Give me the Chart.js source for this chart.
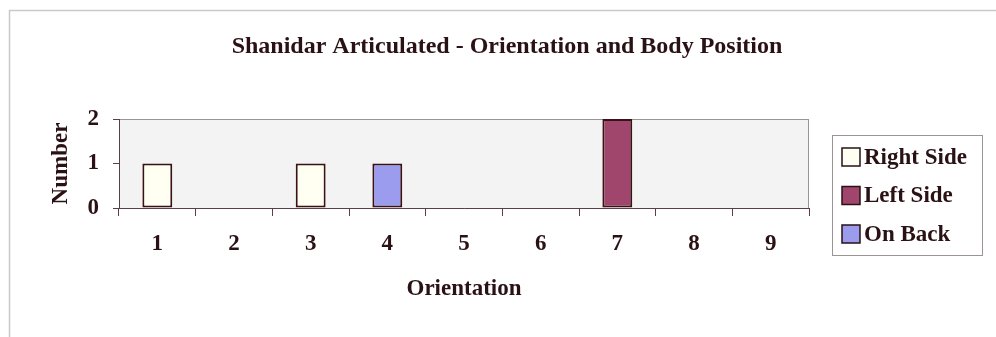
<!DOCTYPE html>
<html>
<head>
<meta charset="utf-8">
<title>Shanidar Articulated</title>
<script src="https://cdn.jsdelivr.net/npm/chart.js@4"></script>
<style>
  html, body { margin: 0; padding: 0; background: #fff; }
  canvas { display: block; }
</style>
</head>
<body>
<canvas id="orientChart" width="996" height="337"></canvas>
<script>
const orientations = ['1', '2', '3', '4', '5', '6', '7', '8', '9'];
const rightSide = [1, null, 1, null, null, null, null, null, null];
const leftSide = [null, null, null, null, null, null, 2, null, null];
const onBack = [null, null, null, 1, null, null, null, null, null];
const numberTicks = [0, 1, 2];

const chartTitle = 'Shanidar Articulated - Orientation and Body Position';
const ink = '#2a1114';
const serif = "'Liberation Serif', 'Times New Roman', serif";

// outer frame, plot background/border, title and the boxed legend
const decorations = {
    id: 'decorations',
    beforeDraw(chart) {
        const c = chart.ctx;
        const a = chart.chartArea;
        c.save();
        c.fillStyle = '#fff';
        c.fillRect(0, 0, chart.width, chart.height);
        c.strokeStyle = '#c9c9c9';
        c.lineWidth = 1.5;
        c.beginPath();
        c.moveTo(9.5, chart.height);
        c.lineTo(9.5, 10.5);
        c.lineTo(chart.width, 10.5);
        c.stroke();
        c.fillStyle = '#f3f3f3';
        c.fillRect(a.left, a.top, a.right - a.left, a.bottom - a.top);
        c.strokeStyle = '#9c9494';
        c.lineWidth = 1;
        c.strokeRect(a.left + 0.5, a.top + 0.5, a.right - a.left - 1, a.bottom - a.top);
        c.restore();
    },
    afterDraw(chart) {
        const c = chart.ctx;
        c.save();
        c.fillStyle = ink;
        c.font = 'bold 24px ' + serif;
        c.textAlign = 'center';
        c.textBaseline = 'middle';
        c.fillText(chartTitle, 507, 47);

        // legend box
        c.strokeStyle = '#9c9494';
        c.lineWidth = 1;
        c.strokeRect(832.5, 135.5, 150, 120);
        c.font = 'bold 23px ' + serif;
        c.textAlign = 'left';
        chart.data.datasets.forEach((ds, i) => {
            const y = 157 + i * 38.5;
            c.fillStyle = ds.backgroundColor;
            c.fillRect(842, y - 9, 18, 18);
            c.strokeStyle = ink;
            c.lineWidth = 1.5;
            c.strokeRect(842, y - 9, 18, 18);
            c.fillStyle = ink;
            c.fillText(ds.label, 864, y + 1);
        });
        c.restore();
    }
};

const barStyle = { borderColor: '#3a1216', borderWidth: 2, borderSkipped: false };
const labelFont = { family: serif, size: 23, weight: 'bold' };

new Chart(document.getElementById('orientChart'), {
    type: 'bar',
    data: {
        labels: orientations,
        datasets: [
            { label: 'Right Side', data: rightSide, backgroundColor: '#fffff2', ...barStyle },
            { label: 'Left Side', data: leftSide, backgroundColor: '#a0466c', ...barStyle },
            { label: 'On Back', data: onBack, backgroundColor: '#9c9cee', ...barStyle }
        ]
    },
    options: {
        responsive: false,
        animation: false,
        grouped: false,
        barPercentage: 0.39,
        categoryPercentage: 1,
        layout: { padding: { top: 119, right: 187, left: 0, bottom: 0 } },
        scales: {
            x: {
                afterFit(scale) { scale.height = 129; },
                grid: { offset: true, drawOnChartArea: false, tickLength: 8, color: '#5a4044' },
                border: { color: '#5a4044' },
                ticks: { color: ink, padding: 14, font: labelFont },
                title: {
                    display: true,
                    text: 'Orientation',
                    color: ink,
                    padding: { top: 0, bottom: 34 },
                    font: labelFont
                }
            },
            y: {
                min: 0,
                max: 2,
                afterFit(scale) { scale.width = 119; },
                afterBuildTicks(scale) { scale.ticks = numberTicks.map(v => ({ value: v })); },
                grid: { drawOnChartArea: false, tickLength: 6, color: '#5a4044' },
                border: { color: '#5a4044' },
                ticks: { color: ink, padding: 14, font: labelFont },
                title: {
                    display: true,
                    text: 'Number',
                    color: ink,
                    padding: { top: 47, bottom: 0 },
                    font: labelFont
                }
            }
        },
        plugins: {
            legend: { display: false },
            title: { display: false },
            tooltip: { enabled: false }
        }
    },
    plugins: [decorations]
});
</script>
</body>
</html>
